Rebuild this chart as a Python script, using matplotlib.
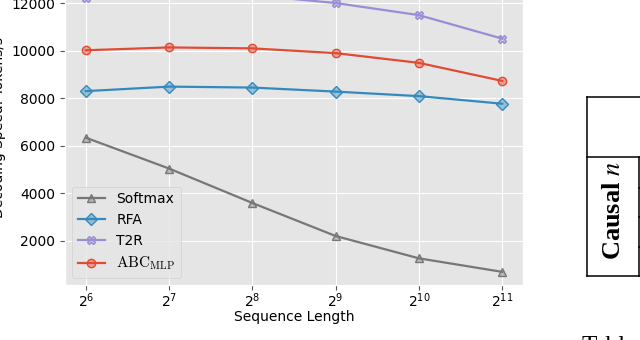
import numpy as np
import matplotlib
matplotlib.use("Agg")
import matplotlib.pyplot as plt
from matplotlib.lines import Line2D

# ==========================================
# DATA
# ==========================================

SEQ_EXP = [6, 7, 8, 9, 10, 11]

softmax = [6350, 5050, 3600, 2210, 1270, 700]
rfa = [8310, 8500, 8460, 8290, 8100, 7780]
t2r = [12230, 12420, 12350, 12020, 11510, 10520]
abc = [10030, 10150, 10110, 9910, 9500, 8740]

LABELS = ["Softmax", "RFA", "T2R", r"$\mathrm{A}\mathrm{BC}_{\mathrm{MLP}}$"]
COLORS = ["#777777", "#348ABD", "#988ED5", "#E24A33"]
MARKERS = ["^", "D", "X", "o"]

Y_TICKS = [2000, 4000, 6000, 8000, 10000, 12000]

# ==========================================
# FIGURE
# ==========================================

plt.style.use("ggplot")
plt.rcParams["font.family"] = ["DejaVu Sans"]
plt.rcParams["mathtext.fontset"] = "dejavusans"

W, H = 640, 340
fig = plt.figure(figsize=(W / 100, H / 100), dpi=100)
fig.patch.set_facecolor("white")

# axes top runs past the top edge of the picture
ax_l, ax_r, ax_b, ax_t = 65, 523, 285, -29
ax = fig.add_axes([ax_l / W, (H - ax_b) / H, (ax_r - ax_l) / W, (ax_b - ax_t) / H])

for vals, lab, col, mk in zip([softmax, rfa, t2r, abc], LABELS, COLORS, MARKERS):
    ax.plot(SEQ_EXP, vals, color=col, marker=mk, markersize=6, linewidth=1.6,
            markerfacecolor=matplotlib.colors.to_rgba(col, 0.45),
            markeredgecolor=col, markeredgewidth=1.0, label=lab)

ax.set_xlim(5.75, 11.25)
ax.set_ylim(147, 13368)
ax.set_xticks(SEQ_EXP)
ax.set_xticklabels([r"$2^{%d}$" % e for e in SEQ_EXP])
ax.set_yticks(Y_TICKS)
ax.tick_params(labelsize=10, colors="#555555", labelcolor="black")
ax.tick_params(axis="x", pad=1)
ax.set_xlabel("Sequence Length", fontsize=10, color="black", labelpad=0)
ax.set_ylabel("Decoding Speed: Tokens/s", fontsize=10, color="black")
leg = ax.legend(loc="lower left", fontsize=10)
leg.get_texts()[3].set_math_fontfamily("cm")
leg.get_texts()[3].set_fontsize(11)

# ==========================================
# PART OF THE NEIGHBOURING TABLE
# ==========================================

def px_line(xs, ys):
    fig.add_artist(Line2D([x / W for x in xs], [(H - y) / H for y in ys],
                          color="black", linewidth=1.1, transform=fig.transFigure))

px_line([587, 641], [97, 97])
px_line([587, 587], [97, 276])
px_line([587, 641], [157, 157])
px_line([587, 641], [276, 276])
px_line([639, 639], [157, 276])
for yy in [188, 217, 247]:
    px_line([639, 641], [yy, yy])

t = fig.text(613 / W, (H - 211) / H, r"Causal $n$", rotation=90, ha="center", va="center",
             fontsize=19, fontweight="bold", family="Liberation Serif")
t.set_math_fontfamily("stix")
fig.text(582 / W, (H - 336) / H, "Table", ha="left", va="top",
         fontsize=18, family="Liberation Serif")

fig.savefig("out.png", dpi=100)
